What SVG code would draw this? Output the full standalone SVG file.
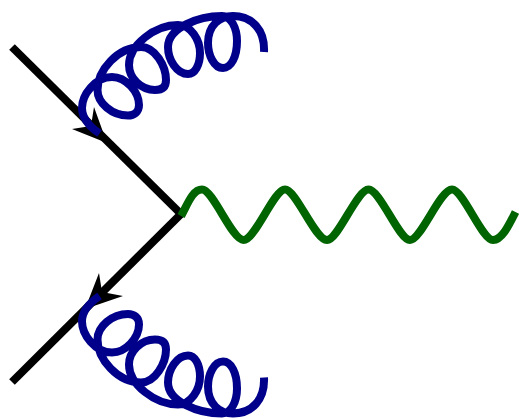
<svg xmlns="http://www.w3.org/2000/svg" width="519" height="419" viewBox="0 0 519 419">
<defs>
<style>
.fermion{fill:none;stroke:#000;stroke-width:8}
.head{fill:#000;stroke:none}
.gluon{fill:none;stroke:#00008b;stroke-width:8}
.photon{fill:none;stroke:#006400;stroke-width:8}
</style>
<path id="coil" d="M99.500 133.500C90 127 82 119 82 108C82 95 95 77 112 77C126 77 139 92 139 105C139 112 134 115.500 128 115.500C112 115.500 97.500 103 97.500 90C97.500 70 118 47 141 47C155 47 166 66 166 80C166 87 162 90 155 90C141 90 129 78 129 65C129 45 155 25 178 25C191 25 200 40 200 53C200 65 195 74 188 74C177 74 168 60 168 47C168 28 198 16 222 16C231 16 237 28 237 41C237 57 231 68 223 68C214 68 208 55 208 43C208 25 220 16 233 16C252 16 265 30 264 52"/>
</defs>
<g id="connectors">
<path id="fermion-in" class="fermion" d="M12 47L181 214"/>
<path id="fermion-out" class="fermion" d="M181 214L12 382"/>
<path id="arrow-in" class="head" d="M107 143L72 129L91 126L94 107Z"/>
<path id="arrow-out" class="head" d="M85 309L99 273L102 292L123 296Z"/>
<use id="gluon-top" href="#coil" class="gluon"/>
<use id="gluon-bottom" href="#coil" class="gluon" transform="matrix(1 0 0 -1 0 429.500)"/>
<path id="photon" class="photon" d="M181 216C187 206 192 189.500 202 189.500C213 189.500 232 240 243.500 240C255 240 274 189.500 285 189.500C296 189.500 315 240 327 240C338 240 357 189.500 368.500 189.500C380 189.500 399 240 410 240C421 240 440 189.500 452 189.500C463 189.500 482 240 493 240C502 240 509 225 515.500 212"/>
</g>
</svg>
